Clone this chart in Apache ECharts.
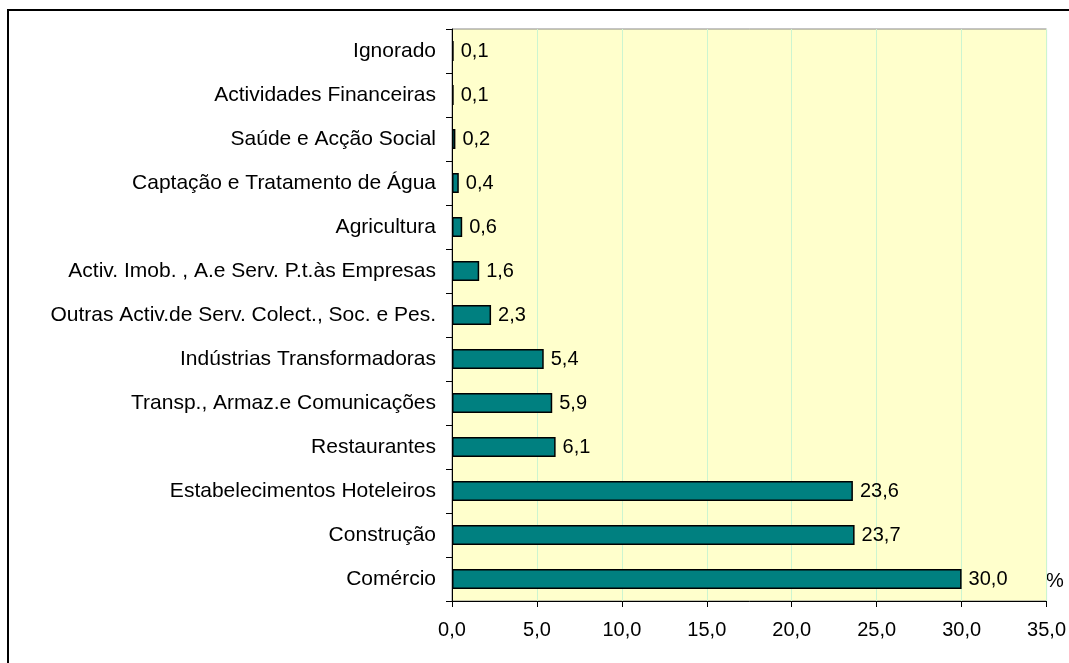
<!DOCTYPE html>
<html><head><meta charset="utf-8">
<script src="https://cdn.jsdelivr.net/npm/echarts@6/dist/echarts.min.js"></script>
<style>html,body{margin:0;padding:0;background:#fff}#c{width:1069px;height:663px}</style>
</head><body><div id="c"></div>
<script>
const categories = ["Comércio","Construção","Estabelecimentos Hoteleiros","Restaurantes","Transp., Armaz.e Comunicações","Indústrias Transformadoras","Outras Activ.de Serv. Colect., Soc. e Pes.","Activ. Imob. , A.e Serv. P.t.às Empresas","Agricultura","Captação e Tratamento de Água","Saúde e Acção Social","Actividades Financeiras","Ignorado"];
const values = [30.0,23.7,23.6,6.1,5.9,5.4,2.3,1.6,0.6,0.4,0.2,0.1,0.1];
const unitLabel = "%";
const fmt = v => Number(v).toFixed(1).replace('.', ',');
const FF = 'Liberation Sans, Arial, sans-serif';
const chart = echarts.init(document.getElementById('c'));
chart.setOption({
  animation:false,
  textStyle:{fontFamily:FF},
  grid:{left:452,right:21,top:29,bottom:62,show:true,backgroundColor:'#FFFFCC',borderColor:'#888',borderWidth:1},
  xAxis:{type:'value',min:0,max:35,interval:5,
    axisLine:{show:true,lineStyle:{color:'#000',width:1}},
    axisTick:{show:true,length:6,lineStyle:{color:'#000'}},
    axisLabel:{color:'#000',fontSize:20,margin:19,formatter:fmt},
    splitLine:{show:true,lineStyle:{color:'#CCF5D0',width:1}}},
  yAxis:{type:'category',data:categories,
    axisLine:{show:true,lineStyle:{color:'#000',width:1}},
    axisTick:{show:true,length:6,lineStyle:{color:'#000'}},
    axisLabel:{color:'#000',fontSize:21,margin:16}},
  series:[{type:'bar',data:values,barWidth:'46%',
    itemStyle:{color:'#008080',borderColor:'#000',borderWidth:1.5},
    label:{show:true,position:'right',distance:7,color:'#000',fontSize:20,formatter:p=>fmt(p.value)}}],
  graphic:[
    {type:'rect',shape:{x:8,y:10,width:1200,height:800},style:{fill:'none',stroke:'#000',lineWidth:2},silent:true,z:100},
    {type:'text',left:1046,top:571,style:{text:unitLabel,fontSize:20,fill:'#000',fontFamily:FF}}
  ]
});
</script></body></html>
